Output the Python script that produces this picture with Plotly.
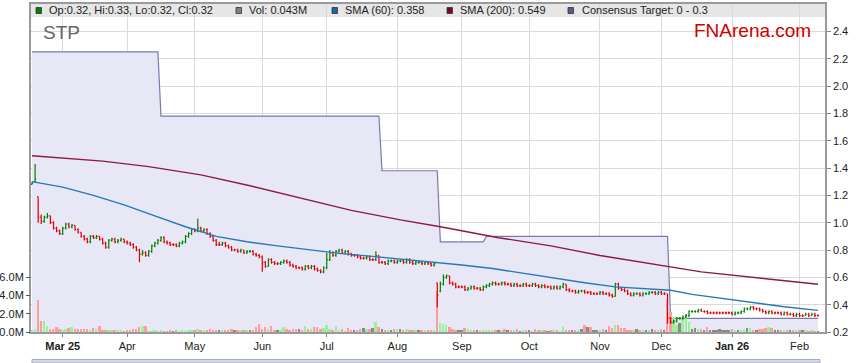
import pandas as pd
import plotly.graph_objects as go

# ---------------- data ----------------
dates = pd.bdate_range("2025-02-17", "2026-02-10")

opens = [1.28, 1.30, 1.19, 1.04, 1.01, 1.04, 1.05, 1.00, 0.96, 0.94,
         0.92, 0.96, 0.99, 0.97, 0.98, 0.95, 0.93, 0.90, 0.88, 0.86,
         0.90, 0.89, 0.90, 0.88, 0.85, 0.82, 0.87, 0.88, 0.86, 0.87,
         0.88, 0.86, 0.85, 0.84, 0.82, 0.80, 0.77, 0.78, 0.76, 0.79,
         0.83, 0.85, 0.87, 0.89, 0.86, 0.85, 0.84, 0.84, 0.83, 0.85,
         0.86, 0.90, 0.92, 0.95, 0.94, 0.96, 0.94, 0.95, 0.92, 0.90,
         0.87, 0.84, 0.84, 0.85, 0.83, 0.82, 0.80, 0.80, 0.79, 0.80,
         0.78, 0.79, 0.79, 0.77, 0.76, 0.75, 0.71, 0.68, 0.73, 0.71,
         0.70, 0.70, 0.71, 0.72, 0.71, 0.69, 0.68, 0.67, 0.67, 0.66,
         0.68, 0.67, 0.68, 0.66, 0.65, 0.64, 0.67, 0.73, 0.78, 0.76,
         0.79, 0.80, 0.78, 0.79, 0.77, 0.76, 0.76, 0.75, 0.74, 0.74,
         0.75, 0.73, 0.73, 0.76, 0.71, 0.71, 0.70, 0.72, 0.72, 0.71,
         0.72, 0.72, 0.71, 0.73, 0.71, 0.70, 0.71, 0.71, 0.70, 0.71,
         0.70, 0.69, 0.56, 0.50, 0.55, 0.60, 0.61, 0.56, 0.55, 0.53,
         0.53, 0.53, 0.51, 0.52, 0.53, 0.52, 0.52, 0.51, 0.53, 0.54,
         0.55, 0.56, 0.55, 0.55, 0.56, 0.55, 0.55, 0.54, 0.55, 0.54,
         0.54, 0.55, 0.54, 0.54, 0.55, 0.54, 0.53, 0.54, 0.53, 0.53,
         0.52, 0.53, 0.52, 0.53, 0.55, 0.51, 0.50, 0.50, 0.49, 0.50,
         0.50, 0.49, 0.49, 0.48, 0.48, 0.48, 0.49, 0.48, 0.48, 0.47,
         0.46, 0.55, 0.52, 0.51, 0.50, 0.48, 0.47, 0.48, 0.48, 0.47,
         0.48, 0.48, 0.49, 0.49, 0.48, 0.49, 0.48, 0.48, 0.30, 0.27,
         0.28, 0.30, 0.30, 0.31, 0.32, 0.35, 0.35, 0.35, 0.36, 0.35,
         0.35, 0.34, 0.34, 0.34, 0.34, 0.34, 0.34, 0.34, 0.34, 0.33,
         0.34, 0.34, 0.35, 0.37, 0.37, 0.38, 0.37, 0.37, 0.36, 0.35,
         0.34, 0.35, 0.34, 0.34, 0.34, 0.33, 0.34, 0.33, 0.33, 0.32,
         0.33, 0.32, 0.32, 0.33, 0.32, 0.33, 0.32]

highs = [1.30, 1.43, 1.19, 1.06, 1.05, 1.07, 1.05, 1.01, 0.97, 0.95,
         0.97, 1.00, 1.00, 0.99, 0.98, 0.96, 0.93, 0.91, 0.89, 0.91,
         0.91, 0.91, 0.90, 0.89, 0.86, 0.88, 0.89, 0.89, 0.88, 0.89,
         0.88, 0.87, 0.86, 0.85, 0.83, 0.81, 0.80, 0.79, 0.80, 0.84,
         0.86, 0.88, 0.90, 0.90, 0.87, 0.86, 0.85, 0.85, 0.86, 0.87,
         0.91, 0.93, 0.96, 0.96, 1.03, 0.97, 0.96, 0.96, 0.93, 0.91,
         0.88, 0.86, 0.86, 0.86, 0.84, 0.83, 0.81, 0.81, 0.81, 0.80,
         0.80, 0.80, 0.80, 0.78, 0.77, 0.76, 0.72, 0.74, 0.74, 0.72,
         0.71, 0.72, 0.73, 0.73, 0.72, 0.70, 0.69, 0.68, 0.68, 0.69,
         0.69, 0.69, 0.69, 0.67, 0.66, 0.68, 0.78, 0.80, 0.79, 0.80,
         0.81, 0.81, 0.80, 0.80, 0.78, 0.77, 0.77, 0.76, 0.75, 0.76,
         0.76, 0.74, 0.79, 0.76, 0.72, 0.72, 0.73, 0.73, 0.73, 0.73,
         0.73, 0.73, 0.74, 0.74, 0.72, 0.72, 0.72, 0.72, 0.72, 0.72,
         0.71, 0.71, 0.56, 0.57, 0.62, 0.62, 0.61, 0.57, 0.56, 0.54,
         0.54, 0.54, 0.53, 0.54, 0.54, 0.53, 0.53, 0.54, 0.55, 0.56,
         0.57, 0.57, 0.56, 0.57, 0.57, 0.56, 0.56, 0.56, 0.56, 0.55,
         0.56, 0.56, 0.55, 0.56, 0.56, 0.55, 0.55, 0.55, 0.54, 0.54,
         0.54, 0.54, 0.54, 0.56, 0.55, 0.52, 0.51, 0.51, 0.51, 0.51,
         0.51, 0.50, 0.50, 0.49, 0.49, 0.50, 0.50, 0.49, 0.49, 0.48,
         0.56, 0.56, 0.53, 0.52, 0.51, 0.49, 0.49, 0.49, 0.49, 0.49,
         0.49, 0.50, 0.50, 0.50, 0.50, 0.50, 0.49, 0.48, 0.31, 0.29,
         0.31, 0.31, 0.32, 0.33, 0.36, 0.36, 0.36, 0.37, 0.37, 0.36,
         0.36, 0.35, 0.35, 0.35, 0.35, 0.35, 0.35, 0.35, 0.35, 0.35,
         0.35, 0.36, 0.38, 0.38, 0.39, 0.39, 0.38, 0.38, 0.37, 0.36,
         0.36, 0.36, 0.35, 0.35, 0.35, 0.35, 0.35, 0.34, 0.34, 0.34,
         0.34, 0.33, 0.34, 0.34, 0.34, 0.34, 0.33]

lows = [1.28, 1.29, 1.00, 0.99, 1.00, 1.03, 0.99, 0.95, 0.93, 0.91,
        0.91, 0.95, 0.96, 0.96, 0.94, 0.92, 0.89, 0.87, 0.85, 0.85,
        0.88, 0.88, 0.87, 0.84, 0.81, 0.81, 0.86, 0.85, 0.85, 0.86,
        0.85, 0.84, 0.83, 0.81, 0.79, 0.71, 0.76, 0.75, 0.75, 0.78,
        0.82, 0.84, 0.86, 0.85, 0.84, 0.83, 0.83, 0.82, 0.82, 0.84,
        0.85, 0.89, 0.91, 0.93, 0.93, 0.93, 0.93, 0.91, 0.89, 0.86,
        0.83, 0.83, 0.83, 0.82, 0.81, 0.79, 0.79, 0.78, 0.78, 0.77,
        0.77, 0.78, 0.76, 0.75, 0.74, 0.64, 0.67, 0.68, 0.70, 0.69,
        0.69, 0.69, 0.70, 0.70, 0.68, 0.67, 0.66, 0.66, 0.65, 0.65,
        0.66, 0.66, 0.65, 0.64, 0.63, 0.63, 0.66, 0.72, 0.75, 0.75,
        0.78, 0.77, 0.77, 0.76, 0.75, 0.75, 0.74, 0.73, 0.73, 0.73,
        0.72, 0.72, 0.72, 0.70, 0.70, 0.69, 0.69, 0.71, 0.70, 0.70,
        0.71, 0.70, 0.70, 0.70, 0.69, 0.69, 0.70, 0.69, 0.69, 0.69,
        0.68, 0.68, 0.38, 0.49, 0.54, 0.59, 0.55, 0.54, 0.52, 0.52,
        0.52, 0.50, 0.50, 0.51, 0.51, 0.51, 0.50, 0.50, 0.52, 0.53,
        0.54, 0.54, 0.54, 0.54, 0.54, 0.54, 0.53, 0.53, 0.53, 0.53,
        0.53, 0.53, 0.53, 0.53, 0.53, 0.52, 0.52, 0.52, 0.52, 0.51,
        0.51, 0.51, 0.51, 0.52, 0.50, 0.49, 0.49, 0.48, 0.48, 0.49,
        0.48, 0.48, 0.47, 0.47, 0.47, 0.47, 0.47, 0.47, 0.46, 0.45,
        0.46, 0.51, 0.50, 0.49, 0.47, 0.46, 0.46, 0.47, 0.46, 0.46,
        0.47, 0.47, 0.48, 0.47, 0.47, 0.47, 0.47, 0.26, 0.26, 0.26,
        0.27, 0.29, 0.29, 0.30, 0.31, 0.34, 0.34, 0.34, 0.35, 0.34,
        0.33, 0.33, 0.33, 0.33, 0.33, 0.33, 0.33, 0.33, 0.32, 0.32,
        0.33, 0.33, 0.34, 0.36, 0.36, 0.36, 0.36, 0.35, 0.34, 0.33,
        0.33, 0.33, 0.33, 0.33, 0.32, 0.32, 0.32, 0.32, 0.31, 0.31,
        0.31, 0.31, 0.32, 0.31, 0.32, 0.31, 0.32]

closes = [1.29, 1.32, 1.04, 1.01, 1.04, 1.05, 1.00, 0.96, 0.94, 0.92,
          0.96, 0.99, 0.97, 0.98, 0.95, 0.93, 0.90, 0.88, 0.86, 0.90,
          0.89, 0.90, 0.88, 0.85, 0.82, 0.87, 0.88, 0.86, 0.87, 0.88,
          0.86, 0.85, 0.84, 0.82, 0.80, 0.77, 0.78, 0.76, 0.79, 0.83,
          0.85, 0.87, 0.89, 0.86, 0.85, 0.84, 0.84, 0.83, 0.85, 0.86,
          0.90, 0.92, 0.95, 0.94, 0.96, 0.94, 0.95, 0.92, 0.90, 0.87,
          0.84, 0.84, 0.85, 0.83, 0.82, 0.80, 0.80, 0.79, 0.80, 0.78,
          0.79, 0.79, 0.77, 0.76, 0.75, 0.71, 0.68, 0.73, 0.71, 0.70,
          0.70, 0.71, 0.72, 0.71, 0.69, 0.68, 0.67, 0.67, 0.66, 0.68,
          0.67, 0.68, 0.66, 0.65, 0.64, 0.67, 0.73, 0.78, 0.76, 0.79,
          0.80, 0.78, 0.79, 0.77, 0.76, 0.76, 0.75, 0.74, 0.74, 0.75,
          0.73, 0.73, 0.76, 0.71, 0.71, 0.70, 0.72, 0.72, 0.71, 0.72,
          0.72, 0.71, 0.73, 0.71, 0.70, 0.71, 0.71, 0.70, 0.71, 0.70,
          0.69, 0.70, 0.47, 0.55, 0.60, 0.61, 0.56, 0.55, 0.53, 0.53,
          0.53, 0.51, 0.52, 0.53, 0.52, 0.52, 0.51, 0.53, 0.54, 0.55,
          0.56, 0.55, 0.55, 0.56, 0.55, 0.55, 0.54, 0.55, 0.54, 0.54,
          0.55, 0.54, 0.54, 0.55, 0.54, 0.53, 0.54, 0.53, 0.53, 0.52,
          0.53, 0.52, 0.53, 0.55, 0.51, 0.50, 0.50, 0.49, 0.50, 0.50,
          0.49, 0.49, 0.48, 0.48, 0.48, 0.49, 0.48, 0.48, 0.47, 0.46,
          0.55, 0.52, 0.51, 0.50, 0.48, 0.47, 0.48, 0.48, 0.47, 0.48,
          0.48, 0.49, 0.49, 0.48, 0.49, 0.48, 0.48, 0.30, 0.27, 0.28,
          0.30, 0.30, 0.31, 0.32, 0.35, 0.35, 0.35, 0.36, 0.35, 0.35,
          0.34, 0.34, 0.34, 0.34, 0.34, 0.34, 0.34, 0.34, 0.33, 0.34,
          0.34, 0.35, 0.37, 0.37, 0.38, 0.37, 0.37, 0.36, 0.35, 0.34,
          0.35, 0.34, 0.34, 0.34, 0.33, 0.34, 0.33, 0.33, 0.32, 0.33,
          0.32, 0.32, 0.33, 0.32, 0.33, 0.32, 0.32]

volumes_m = [0.15, 0.33, 3.5, 1.2, 1.2, 0.65, 0.35, 0.35, 0.5, 0.3,
             0.25, 0.35, 0.4, 0.55, 0.35, 0.35, 0.3, 0.35, 0.35, 0.2,
             0.4, 0.35, 0.65, 0.2, 0.15, 0.2, 0.15, 0.2, 0.25, 0.15,
             0.1, 0.15, 0.2, 0.3, 0.35, 0.5, 0.65, 0.65, 0.1, 0.1,
             0.15, 0.1, 0.2, 0.1, 0.1, 0.15, 0.1, 0.25, 0.1, 0.15,
             0.1, 0.2, 0.15, 0.2, 0.3, 0.2, 0.15, 0.25, 0.3, 0.2,
             0.15, 0.25, 0.2, 0.15, 0.2, 0.3, 0.25, 0.2, 0.2, 0.15,
             0.2, 0.25, 0.15, 0.5, 0.9, 0.3, 0.5, 0.3, 0.65, 0.2,
             0.15, 0.2, 0.5, 0.3, 0.25, 0.3, 0.3, 0.35, 0.2, 0.65,
             0.3, 0.3, 0.5, 0.5, 0.35, 0.4, 0.8, 0.3, 0.15, 0.65,
             0.15, 0.3, 0.1, 0.4, 0.2, 0.15, 0.15, 0.3, 0.4, 0.35,
             0.3, 0.4, 1.1, 0.5, 0.35, 0.25, 0.2, 0.25, 0.3, 0.3,
             0.3, 0.2, 0.3, 0.25, 0.15, 0.2, 0.15, 0.2, 0.15, 0.2,
             0.15, 0.25, 4.5, 1.0, 0.85, 0.8, 0.6, 0.3, 0.2, 0.15,
             0.2, 0.45, 0.35, 0.15, 0.2, 0.2, 0.1, 0.2, 0.15, 0.25,
             0.25, 0.2, 0.15, 0.15, 0.3, 0.15, 0.2, 0.15, 0.3, 0.1,
             0.15, 0.2, 0.2, 0.1, 0.3, 0.15, 0.15, 0.2, 0.1, 0.15,
             0.15, 0.2, 0.1, 0.5, 0.2, 0.15, 0.2, 0.15, 0.2, 0.3,
             0.8, 0.55, 0.5, 0.2, 0.25, 0.2, 0.3, 0.2, 0.7, 0.4,
             0.8, 0.75, 0.45, 0.4, 0.2, 0.15, 0.2, 0.3, 0.25, 0.2,
             0.2, 0.15, 0.3, 0.25, 0.2, 0.3, 0.2, 3.6, 2.2, 1.6,
             0.75, 1.0, 1.5, 2.0, 1.1, 0.3, 0.4, 0.35, 0.3, 0.2,
             0.5, 0.25, 0.2, 0.15, 0.3, 0.2, 0.15, 0.25, 0.3, 0.2,
             0.15, 0.25, 0.35, 0.4, 0.45, 0.2, 0.2, 0.3, 0.35, 0.45,
             0.5, 0.4, 0.2, 0.25, 0.15, 0.2, 0.15, 0.2, 0.25, 0.15,
             0.2, 0.15, 0.2, 0.1, 0.15, 0.1, 0.043]

sma60_dates = ["2025-02-17", "2025-03-03", "2025-03-17", "2025-03-31", "2025-04-14",
               "2025-04-28", "2025-05-12", "2025-05-26", "2025-06-09", "2025-06-23",
               "2025-07-07", "2025-07-21", "2025-08-04", "2025-08-18", "2025-09-01",
               "2025-09-15", "2025-09-29", "2025-10-13", "2025-10-27", "2025-11-10",
               "2025-11-24", "2025-12-04", "2025-12-15", "2025-12-29", "2026-01-12",
               "2026-01-26", "2026-02-10"]
sma60_values = [1.30, 1.26, 1.20, 1.13, 1.05, 0.97, 0.90, 0.86, 0.83, 0.80,
                0.775, 0.755, 0.735, 0.71, 0.69, 0.665, 0.63, 0.59, 0.56, 0.53,
                0.515, 0.505, 0.475, 0.445, 0.415, 0.385, 0.358]

sma200_dates = ["2025-02-17", "2025-03-20", "2025-04-10", "2025-05-05", "2025-05-27",
                "2025-06-18", "2025-07-11", "2025-08-04", "2025-08-21", "2025-09-17",
                "2025-10-10", "2025-11-03", "2025-11-25", "2025-12-18", "2026-01-16",
                "2026-02-10"]
sma200_values = [1.49, 1.45, 1.41, 1.35, 1.27, 1.18, 1.09, 1.02, 0.97, 0.89,
                 0.83, 0.76, 0.70, 0.64, 0.59, 0.549]

target_dates = ["2025-02-17", "2025-04-15", "2025-04-16", "2025-07-24", "2025-07-25",
                "2025-08-20", "2025-08-21", "2025-09-10", "2025-09-11", "2025-12-03",
                "2025-12-04", "2026-02-10"]
target_values = [2.25, 2.25, 1.78, 1.78, 1.38, 1.38, 0.86, 0.86, 0.90, 0.90, 0.30, 0.30]

tick_dates = ["2025-03-03", "2025-04-01", "2025-05-01", "2025-06-02", "2025-07-01",
              "2025-08-01", "2025-09-01", "2025-10-01", "2025-11-03", "2025-12-01",
              "2026-01-01", "2026-02-02"]
tick_labels = ["<b>Mar 25</b>", "Apr", "May", "Jun", "Jul", "Aug", "Sep", "Oct",
               "Nov", "Dec", "<b>Jan 26</b>", "Feb"]

price_ticks = [0.2, 0.4, 0.6, 0.8, 1.0, 1.2, 1.4, 1.6, 1.8, 2.0, 2.2, 2.4]
vol_ticks = [0, 2, 4, 6]
vol_tick_labels = ["0.0M", "2.0M", "4.0M", "6.0M"]

legend_items = [
    ("Op:0.32, Hi:0.33, Lo:0.32, Cl:0.32", "#008000"),
    ("Vol: 0.043M", "#808080"),
    ("SMA (60): 0.358", "#1a64a8"),
    ("SMA (200): 0.549", "#7a0a2a"),
    ("Consensus Target: 0 - 0.3", "#5a5a8c"),
]

# ---------------- styling / layout helpers ----------------
W, H = 859, 363
ML, MR, MT, MB = 31, 34, 4, 31
PW, PH = W - ML - MR, H - MT - MB
FONT = "Liberation Sans, Arial, sans-serif"
X_RANGE = ["2025-02-14 16:00", "2026-02-12 07:00"]
P_RANGE = [0.2, 2.6]


def px_x(px):
    return (px - ML) / PW


def px_y(py):
    return (H - MB - py) / PH


vol_colors = []
for k, c in enumerate(closes):
    prev = closes[k - 1] if k > 0 else None
    if prev is None or c > prev:
        vol_colors.append("#9cf09c")
    elif c < prev:
        vol_colors.append("#ff9c9c")
    else:
        vol_colors.append("#8a8a8a")

fig = go.Figure()

# consensus target area (main subplot, drawn first / lowest)
fig.add_trace(go.Scatter(
    x=pd.to_datetime(target_dates), y=target_values, mode="lines",
    line=dict(color="#7a7ab0", width=1.2), fill="tozeroy",
    fillcolor="#e7e7f6", hoverinfo="skip", yaxis="y"))

# volume (overlay subplot y2)
fig.add_trace(go.Bar(
    x=dates, y=volumes_m, marker=dict(color=vol_colors, line=dict(width=0)),
    width=0.62 * 86400000, yaxis="y2", hoverinfo="skip"))

# OHLC bars and SMAs (overlay subplot y3, same scale as price)
fig.add_trace(go.Ohlc(
    x=dates, open=opens, high=highs, low=lows, close=closes,
    increasing=dict(line=dict(color="#008000", width=1.2)),
    decreasing=dict(line=dict(color="#e00000", width=1.2)),
    tickwidth=0.35, yaxis="y3", hoverinfo="skip"))
fig.add_trace(go.Scatter(
    x=pd.to_datetime(sma200_dates), y=sma200_values, mode="lines",
    line=dict(color="#8e1b3e", width=1.4),
    hoverinfo="skip", yaxis="y3"))
fig.add_trace(go.Scatter(
    x=pd.to_datetime(sma60_dates), y=sma60_values, mode="lines",
    line=dict(color="#2878b8", width=1.4),
    hoverinfo="skip", yaxis="y3"))

shapes = [
    dict(type="rect", xref="paper", yref="paper", x0=0, x1=1,
         y0=px_y(17), y1=1, fillcolor="#e6e6e6", line=dict(width=0), layer="below"),
    dict(type="rect", xref="paper", yref="paper", x0=px_x(32), x1=px_x(820),
         y0=px_y(363), y1=px_y(359.5), fillcolor="#d6d6e6",
         line=dict(color="#a8a8c4", width=1), layer="above"),
]
annotations = []
legend_pos = [(36, 47), (236, 247), (332, 343), (447, 458), (568, 580)]
for (label, color), (sx, tx) in zip(legend_items, legend_pos):
    shapes.append(dict(type="rect", xref="paper", yref="paper",
                       x0=px_x(sx), x1=px_x(sx + 5.5), y0=px_y(13.5), y1=px_y(7.5),
                       fillcolor=color, line=dict(color="#333333", width=0.8),
                       layer="above"))
    annotations.append(dict(xref="paper", yref="paper", x=px_x(tx), y=px_y(10.5),
                            text=label, showarrow=False, xanchor="left",
                            yanchor="middle",
                            font=dict(family=FONT, size=11, color="#222222")))

annotations.append(dict(xref="paper", yref="paper", x=px_x(41), y=px_y(32.5),
                        text="STP", showarrow=False, xanchor="left", yanchor="middle",
                        font=dict(family=FONT, size=19, color="#666666")))
annotations.append(dict(xref="paper", yref="paper", x=px_x(692), y=px_y(31),
                        text="FNArena.com", showarrow=False, xanchor="left",
                        yanchor="middle",
                        font=dict(family=FONT, size=19, color="#cc0000")))

tickfont = dict(family=FONT, size=11, color="#222222")

fig.update_layout(
    width=W, height=H, margin=dict(l=ML, r=MR, t=MT, b=MB, pad=0),
    paper_bgcolor="white", plot_bgcolor="white", showlegend=False,
    font=dict(family=FONT, size=11, color="#222222"),
    bargap=0, hovermode=False,
    xaxis=dict(
        type="date", range=X_RANGE, automargin=False,
        rangebreaks=[dict(bounds=["sat", "mon"])],
        tickvals=pd.to_datetime(tick_dates), ticktext=tick_labels,
        showgrid=True, gridcolor="#dadada", gridwidth=1,
        ticks="outside", ticklen=3, tickcolor="#888888",
        showline=True, linecolor="#9a9a9a", linewidth=1.5, mirror=True,
        tickfont=tickfont, rangeslider=dict(visible=False), fixedrange=True),
    yaxis=dict(
        range=P_RANGE, side="right", tickvals=price_ticks, automargin=False,
        ticktext=[f"{v:.1f}" for v in price_ticks],
        showgrid=True, gridcolor="#dadada", gridwidth=1, zeroline=False,
        ticks="outside", ticklen=4, tickcolor="#888888",
        showline=True, linecolor="#9a9a9a", linewidth=1.5, mirror=True,
        tickfont=tickfont, fixedrange=True),
    yaxis2=dict(
        range=[0, 35.8], overlaying="y", side="left", tickvals=vol_ticks,
        ticktext=vol_tick_labels, showgrid=False, zeroline=False, automargin=False,
        ticks="outside", ticklen=4, tickcolor="#555555", showline=False,
        tickfont=tickfont, fixedrange=True),
    yaxis3=dict(
        range=P_RANGE, overlaying="y", side="right", showgrid=False,
        zeroline=False, showticklabels=False, ticks="", showline=False,
        automargin=False, fixedrange=True),
    shapes=shapes, annotations=annotations,
)

fig.write_html("out.html", config={"displayModeBar": False},
               post_script="document.body.style.margin='0px';"
                           "document.body.style.overflow='hidden';")
